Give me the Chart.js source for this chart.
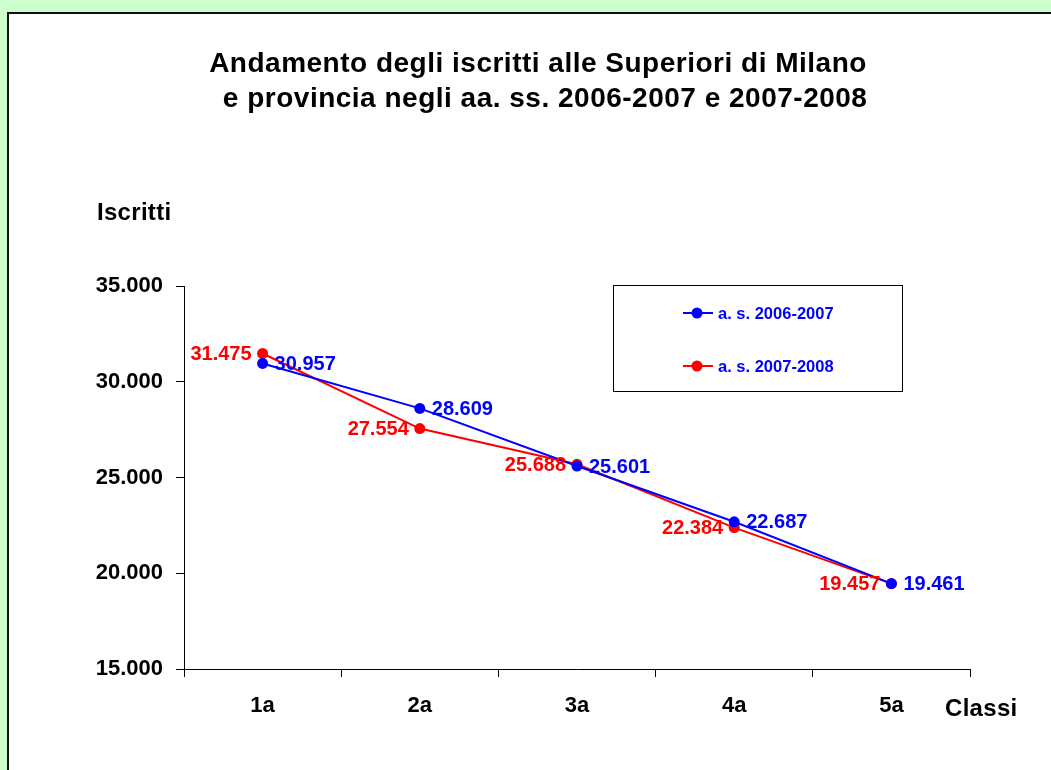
<!DOCTYPE html>
<html>
<head>
<meta charset="utf-8">
<script src="https://cdn.jsdelivr.net/npm/chart.js@4"></script>
<style>
  body { margin: 0; background: #ccffcc; }
  #wrap { width: 1051px; height: 770px; }
</style>
</head>
<body>
<div id="wrap"><canvas id="chart" width="1051" height="770"></canvas></div>
<script>
// data
const classi = ["1a", "2a", "3a", "4a", "5a"];
const iscritti0607 = [30957, 28609, 25601, 22687, 19461];
const iscritti0708 = [31475, 27554, 25688, 22384, 19457];
const seriesNames = ["a. s. 2006-2007", "a. s. 2007-2008"];
const titleLines = ["Andamento degli iscritti alle Superiori di Milano", " e provincia negli aa. ss. 2006-2007 e 2007-2008"];

const FONT = "'Liberation Sans', Arial, sans-serif";
const BLUE = "#0000ff";
const RED = "#ff0000";

function fmt(v) {
  return String(v).replace(/\B(?=(\d{3})+(?!\d))/g, ".");
}

// green page, white panel with dark border
const panelPlugin = {
  id: "panel",
  beforeDraw(chart) {
    const ctx = chart.ctx;
    ctx.save();
    ctx.fillStyle = "#ccffcc";
    ctx.fillRect(0, 0, chart.width, chart.height);
    ctx.fillStyle = "#ffffff";
    ctx.fillRect(8, 13, chart.width, chart.height);
    ctx.strokeStyle = "#111";
    ctx.lineWidth = 2;
    ctx.beginPath();
    ctx.moveTo(8, chart.height + 5);
    ctx.lineTo(8, 13);
    ctx.lineTo(chart.width + 5, 13);
    ctx.stroke();
    ctx.restore();
  }
};

// value labels next to the points
const labelPlugin = {
  id: "valueLabels",
  afterDatasetsDraw(chart) {
    const ctx = chart.ctx;
    ctx.save();
    ctx.font = "bold 20px " + FONT;
    ctx.textBaseline = "middle";
    chart.data.datasets.forEach((ds, i) => {
      const meta = chart.getDatasetMeta(i);
      meta.data.forEach((pt, j) => {
        ctx.fillStyle = ds.borderColor;
        if (i === 0) {
          ctx.textAlign = "left";
          ctx.fillText(fmt(ds.data[j]), pt.x + 12, pt.y + 1);
        } else {
          ctx.textAlign = "right";
          ctx.fillText(fmt(ds.data[j]), pt.x - 11, pt.y + 1);
        }
      });
    });
    ctx.restore();
  }
};

// title, axis names and boxed legend
const textPlugin = {
  id: "texts",
  afterDraw(chart) {
    const ctx = chart.ctx;
    ctx.save();
    ctx.fillStyle = "#000";
    ctx.textBaseline = "middle";
    ctx.textAlign = "center";
    ctx.font = "bold 28px " + FONT;
    ctx.letterSpacing = "0.5px";
    ctx.fillText(titleLines[0], 538, 64);
    ctx.fillText(titleLines[1], 541, 99);

    ctx.font = "bold 24px " + FONT;
    ctx.letterSpacing = "0.3px";
    ctx.textAlign = "left";
    ctx.fillText("Iscritti", 97, 213);
    ctx.fillText("Classi", 945, 709);
    ctx.letterSpacing = "0px";

    // legend box
    ctx.strokeStyle = "#000";
    ctx.lineWidth = 1;
    ctx.strokeRect(613.5, 285.5, 289, 106);
    ctx.font = "bold 16.5px " + FONT;
    chart.data.datasets.forEach((ds, i) => {
      const y = 313 + i * 53;
      ctx.strokeStyle = ds.borderColor;
      ctx.lineWidth = 2;
      ctx.beginPath();
      ctx.moveTo(683, y);
      ctx.lineTo(713, y);
      ctx.stroke();
      ctx.fillStyle = ds.borderColor;
      ctx.beginPath();
      ctx.arc(697, y, 5.5, 0, Math.PI * 2);
      ctx.fill();
      ctx.fillStyle = BLUE;
      ctx.fillText(ds.label, 718, y + 1);
    });
    ctx.restore();
  }
};

new Chart(document.getElementById("chart").getContext("2d"), {
  type: "line",
  data: {
    labels: classi,
    datasets: [
      {
        label: seriesNames[0],
        data: iscritti0607,
        borderColor: BLUE,
        backgroundColor: BLUE,
        borderWidth: 2,
        pointRadius: 5.5,
        pointBorderWidth: 0,
        tension: 0
      },
      {
        label: seriesNames[1],
        data: iscritti0708,
        borderColor: RED,
        backgroundColor: RED,
        borderWidth: 2,
        pointRadius: 5.5,
        pointBorderWidth: 0,
        tension: 0
      }
    ]
  },
  options: {
    responsive: false,
    devicePixelRatio: 1,
    animation: false,
    layout: { padding: { top: 286, right: 81, bottom: 41, left: 0 } },
    plugins: {
      legend: { display: false },
      title: { display: false },
      tooltip: { enabled: false }
    },
    scales: {
      x: {
        offset: true,
        afterFit(scale) { scale.height = 60; },
        grid: { offset: true, drawOnChartArea: false, drawTicks: true, tickLength: 8, color: "#000" },
        border: { color: "#000", width: 1 },
        ticks: { color: "#000", padding: 16, font: { family: FONT, size: 22, weight: "bold" } }
      },
      y: {
        min: 15000,
        max: 35000,
        afterFit(scale) { scale.width = 184; },
        grid: { drawOnChartArea: false, drawTicks: true, tickLength: 8, color: "#000" },
        border: { color: "#000", width: 1 },
        ticks: {
          stepSize: 5000,
          color: "#000",
          padding: 13,
          font: { family: FONT, size: 22, weight: "bold" },
          callback: (v) => fmt(v)
        }
      }
    }
  },
  plugins: [panelPlugin, labelPlugin, textPlugin]
});
</script>
</body>
</html>
